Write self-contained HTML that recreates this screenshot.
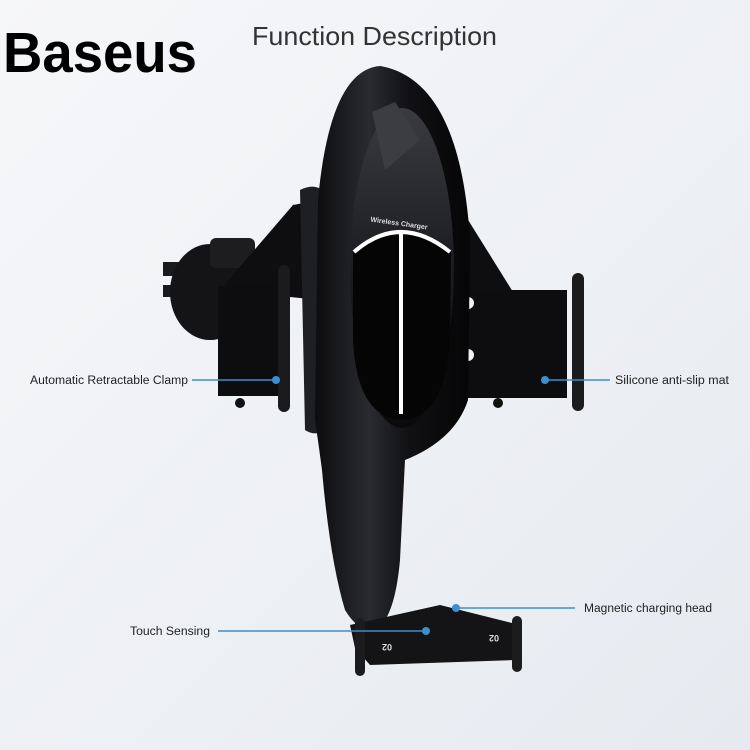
<!DOCTYPE html>
<html><head><meta charset="utf-8"><style>
html,body{margin:0;padding:0;width:750px;height:750px;overflow:hidden;background:#eef1f5}
svg{display:block}
</style></head><body>
<svg width="750" height="750" viewBox="0 0 750 750" xmlns="http://www.w3.org/2000/svg">
<defs>
<linearGradient id="bg" x1="0" y1="0" x2="1" y2="1"><stop offset="0" stop-color="#f6f7f9"/><stop offset="1" stop-color="#e6eaf0"/></linearGradient>
<linearGradient id="bd" x1="0" y1="0" x2="1" y2="0"><stop offset="0" stop-color="#0c0c0e"/><stop offset="0.35" stop-color="#2a2b2f"/><stop offset="0.6" stop-color="#111114"/><stop offset="1" stop-color="#050506"/></linearGradient>
<linearGradient id="fc" x1="0" y1="0" x2="0" y2="1"><stop offset="0" stop-color="#3a3b40"/><stop offset="0.5" stop-color="#1b1c20"/><stop offset="1" stop-color="#0a0a0c"/></linearGradient>
</defs>
<rect width="750" height="750" fill="url(#bg)"/>
<text x="3" y="72" font-family="Liberation Sans, sans-serif" font-weight="bold" font-size="57" textLength="194" lengthAdjust="spacingAndGlyphs" fill="#000">Baseus</text>
<text x="252" y="45" font-family="Liberation Sans, sans-serif" font-size="26" textLength="245" lengthAdjust="spacingAndGlyphs" fill="#333">Function Description</text>

<rect x="163" y="262" width="20" height="14" fill="#1a1a1d"/>
<rect x="163" y="285" width="20" height="12" fill="#1a1a1d"/>
<ellipse cx="210" cy="292" rx="40" ry="48" fill="#141417"/>
<rect x="210" y="238" width="45" height="30" rx="6" fill="#1d1d20"/>
<polygon points="293,205 320,200 320,300 220,290 250,255" fill="#0e0e10"/>
<polygon points="455,210 465,215 513,292 470,300 455,300" fill="#0e0e10"/>
<rect x="218" y="286" width="64" height="110" fill="#0d0d0f"/>
<rect x="278" y="265" width="12" height="147" rx="6" fill="#1b1b1e"/>
<circle cx="240" cy="403" r="5" fill="#111"/>
<rect x="466" y="290" width="101" height="108" fill="#0d0d0f"/>
<rect x="572" y="273" width="12" height="138" rx="6" fill="#1b1b1e"/>
<circle cx="498" cy="403" r="5" fill="#111"/>
<circle cx="468" cy="303" r="6" fill="#eef1f5"/>
<circle cx="468" cy="355" r="6" fill="#eef1f5"/>
<path d="M300,190 Q320,180 330,200 L335,420 Q320,440 305,430 Z" fill="#1e1f22"/>
<path d="M380,66 Q330,70 318,200 L315,420 Q318,440 322,470 Q330,560 345,610 Q360,635 378,628 Q395,615 400,560 L405,460 Q455,440 468,400 L470,240 Q460,80 380,66 Z" fill="url(#bd)"/>
<ellipse cx="402" cy="268" rx="52" ry="160" fill="url(#fc)"/>
<path d="M372,112 L395,102 L420,140 L385,170 Z" fill="#3c3d42"/>
<path d="M353,250 Q400,210 451,250 L450,340 Q445,418 402,420 Q357,418 353,340 Z" fill="#050506"/>
<path d="M354,252 Q400,212 450,252" stroke="#fff" stroke-width="4" fill="none"/>
<line x1="401" y1="233" x2="401" y2="414" stroke="#fff" stroke-width="4"/>
<text x="370" y="225" font-family="Liberation Sans, sans-serif" font-weight="bold" font-size="7" fill="#ddd" transform="rotate(8 395 225)">Wireless Charger</text>

<path d="M350,625 L440,605 L520,625 L515,660 L370,665 L355,648 Z" fill="#141416"/>
<rect x="355" y="618" width="10" height="58" rx="5" fill="#1c1c1f"/>
<rect x="512" y="616" width="10" height="56" rx="5" fill="#1c1c1f"/>
<text x="378" y="652" font-family="Liberation Sans, sans-serif" font-weight="bold" font-size="9" fill="#ddd" transform="rotate(180 385 648)">02</text>
<text x="485" y="641" font-family="Liberation Sans, sans-serif" font-weight="bold" font-size="9" fill="#ddd" transform="rotate(180 492 638)">02</text>

<g font-family="Liberation Sans, sans-serif" font-size="11.5" fill="#222">
<text x="30" y="384" textLength="158" lengthAdjust="spacingAndGlyphs">Automatic Retractable Clamp</text>
<text x="615" y="384" textLength="114" lengthAdjust="spacingAndGlyphs">Silicone anti-slip mat</text>
<text x="130" y="635" textLength="80" lengthAdjust="spacingAndGlyphs">Touch Sensing</text>
<text x="584" y="612" textLength="128" lengthAdjust="spacingAndGlyphs">Magnetic charging head</text>
</g>
<g stroke="#3a8fcf" stroke-width="1.5">
<line x1="192" y1="380" x2="276" y2="380"/>
<line x1="545" y1="380" x2="610" y2="380"/>
<line x1="218" y1="631" x2="425" y2="631"/>
<line x1="456" y1="608" x2="575" y2="608"/>
</g>
<g fill="#3a8fcf">
<circle cx="276" cy="380" r="4"/><circle cx="545" cy="380" r="4"/>
<circle cx="426" cy="631" r="4"/><circle cx="456" cy="608" r="4"/>
</g>
</svg>
</body></html>
